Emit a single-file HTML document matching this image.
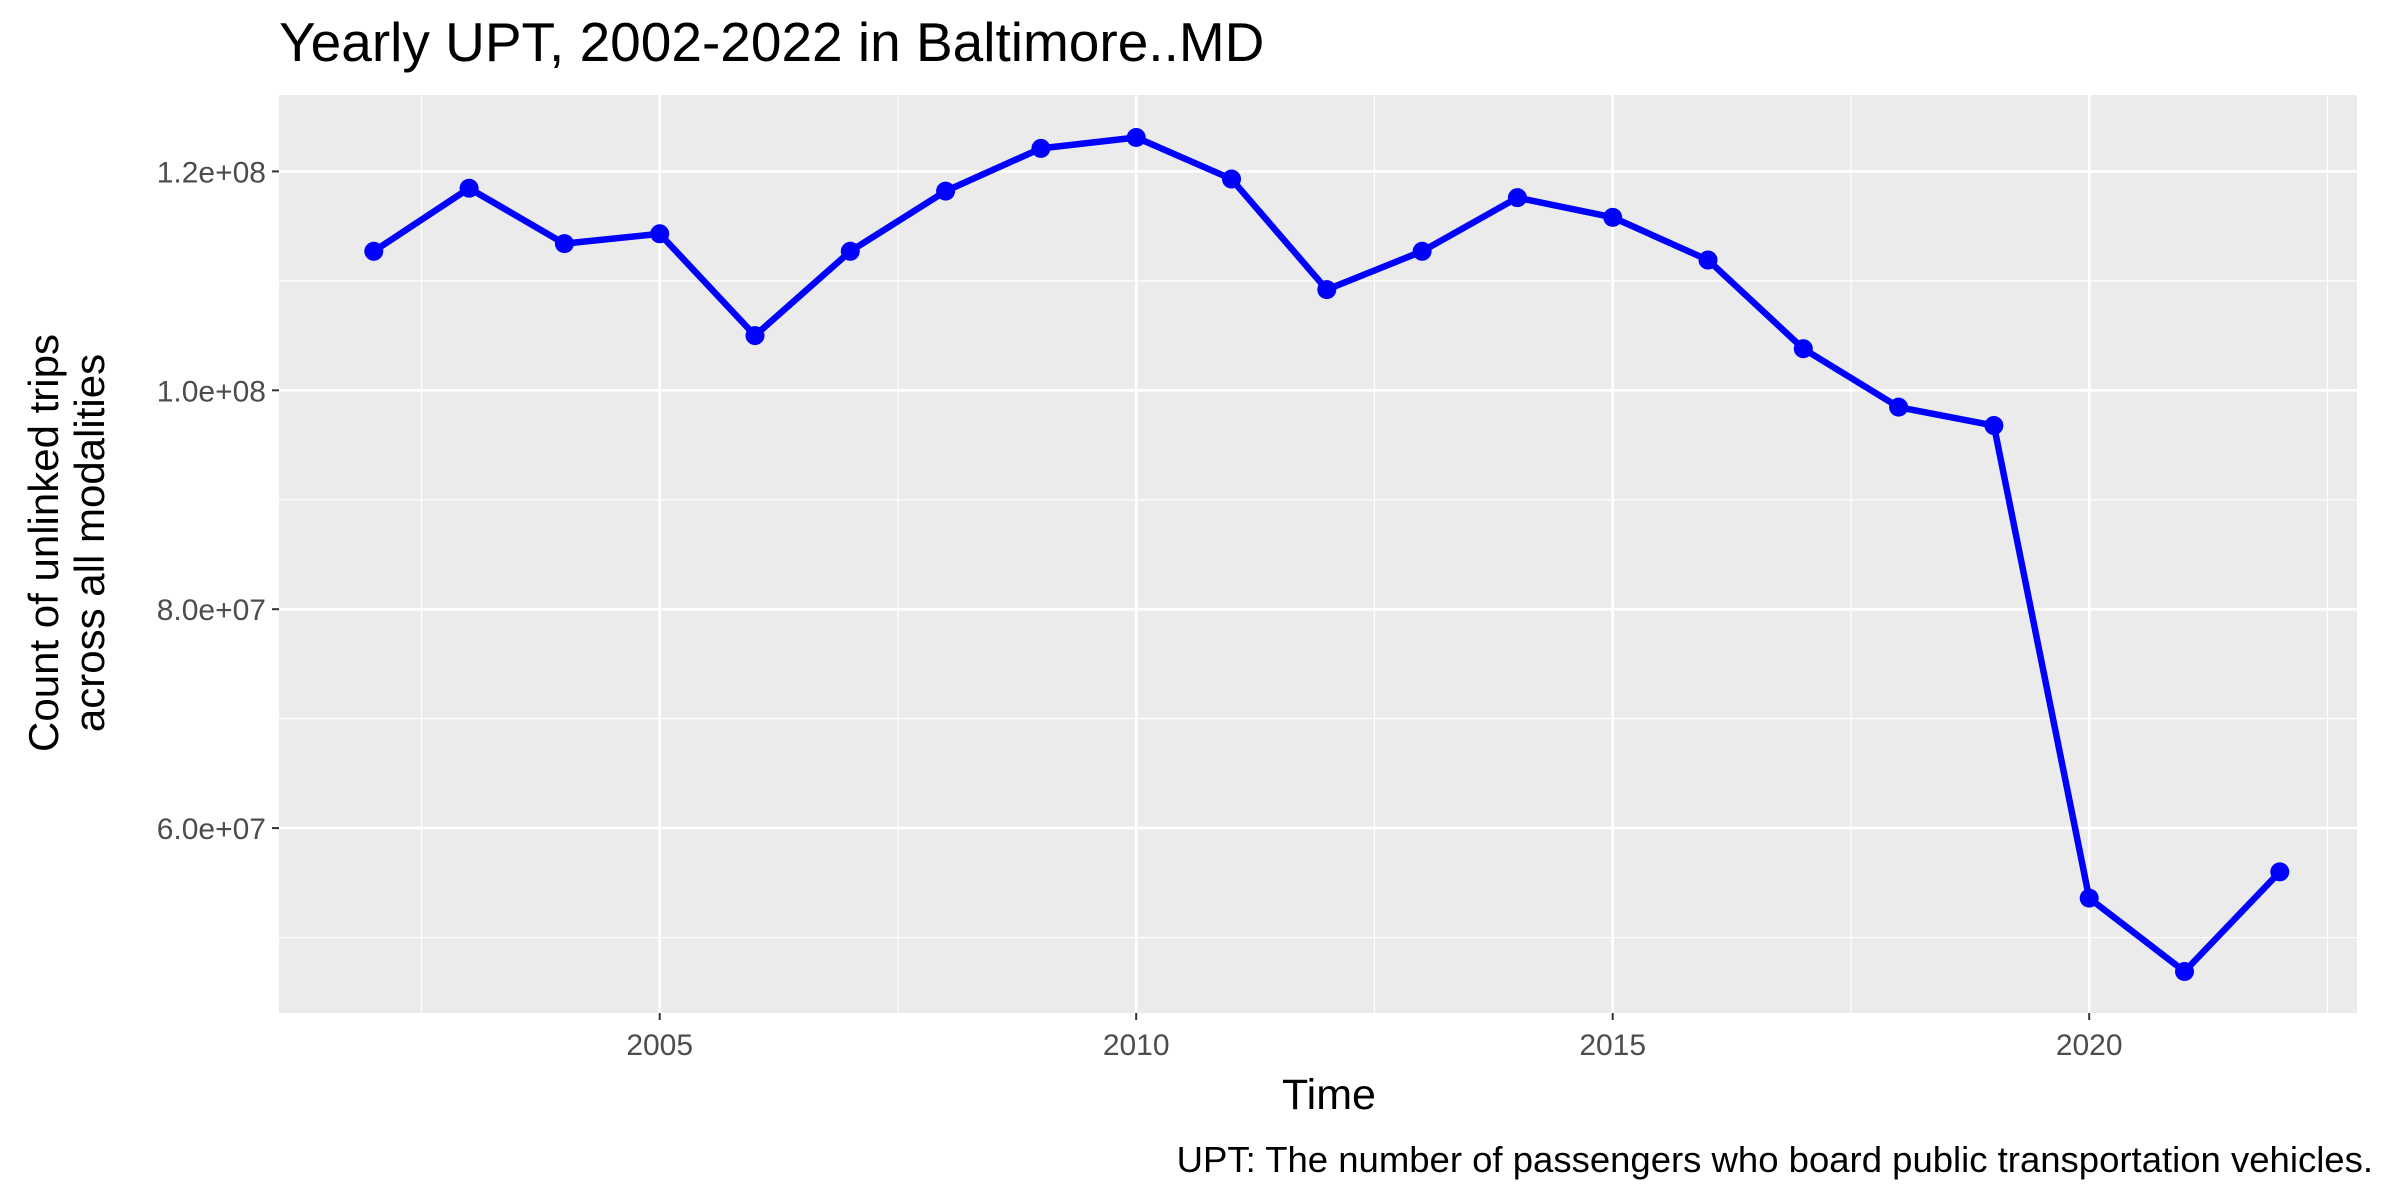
<!DOCTYPE html>
<html><head><meta charset="utf-8"><style>
html,body{margin:0;padding:0;background:#fff;}
svg{display:block;font-family:"Liberation Sans",Arial,sans-serif;}
</style></head><body>
<svg id="chart" width="2400" height="1200" viewBox="0 0 2400 1200">
<rect x="0" y="0" width="2400" height="1200" fill="#fff"/>
<text x="279" y="61" font-size="55" fill="#000">Yearly UPT, 2002-2022 in Baltimore..MD</text>
<rect x="279" y="95" width="2078" height="918" fill="#ebebeb"/>
<g id="grid"></g>
<g id="axes"></g>
<g id="series"></g>
<text x="1329" y="1109" font-size="43" text-anchor="middle" fill="#000">Time</text>
<text transform="translate(58,543) rotate(-90)" font-size="42" text-anchor="middle" fill="#000">Count of unlinked trips</text>
<text transform="translate(104,543) rotate(-90)" font-size="42" text-anchor="middle" fill="#000">across all modalities</text>
<text x="2373" y="1172" font-size="36.5" text-anchor="end" fill="#000">UPT: The number of passengers who board public transportation vehicles.</text>
</svg>
<script>
const years = [2002,2003,2004,2005,2006,2007,2008,2009,2010,2011,2012,2013,2014,2015,2016,2017,2018,2019,2020,2021,2022];
const upt = [1.127e8,1.1846e8,1.134e8,1.143e8,1.050e8,1.127e8,1.182e8,1.221e8,1.231e8,1.193e8,1.092e8,1.127e8,1.176e8,1.158e8,1.119e8,1.038e8,0.9846e8,0.9678e8,5.36e7,4.69e7,5.6e7];
const yTicks = [6e7,8e7,1e8,1.2e8];
const yTickLabels = ["6.0e+07","8.0e+07","1.0e+08","1.2e+08"];
const yMinor = [5e7,7e7,9e7,1.1e8];
const xTicks = [2005,2010,2015,2020];
const xTickLabels = ["2005","2010","2015","2020"];
const xMinor = [2002.5,2007.5,2012.5,2017.5,2022.5];

const NS="http://www.w3.org/2000/svg";
const PL=279,PR=2357,PT=95,PB=1013;
function xs(v){return 659.7+(v-2005)*95.3;}
function ys(v){return 171.4+(1.2e8-v)/2e7*218.9;}
function mk(tag,attrs,parent){const e=document.createElementNS(NS,tag);for(const k in attrs)e.setAttribute(k,attrs[k]);parent.appendChild(e);return e;}
const grid=document.getElementById('grid'),axes=document.getElementById('axes'),series=document.getElementById('series');
yMinor.forEach(v=>{const e=mk('line',{x1:PL,x2:PR,y1:ys(v),y2:ys(v),stroke:'#fff','stroke-width':1.2},grid);

});
xMinor.forEach(v=>{const e=mk('line',{x1:xs(v),x2:xs(v),y1:PT,y2:PB,stroke:'#fff','stroke-width':1.2},grid);

});
yTicks.forEach((v,i)=>{const e=mk('line',{x1:PL,x2:PR,y1:ys(v),y2:ys(v),stroke:'#fff','stroke-width':2.6},grid);


const t=mk('line',{x1:PL-7,x2:PL,y1:ys(v),y2:ys(v),stroke:'#333','stroke-width':2},axes);


const l=mk('text',{x:PL-13,y:ys(v)+11,'font-size':30,'text-anchor':'end',fill:'#4d4d4d'},axes);l.textContent=yTickLabels[i];

});
xTicks.forEach((v,i)=>{const e=mk('line',{x1:xs(v),x2:xs(v),y1:PT,y2:PB,stroke:'#fff','stroke-width':2.6},grid);


const t=mk('line',{x1:xs(v),x2:xs(v),y1:PB,y2:PB+7,stroke:'#333','stroke-width':2},axes);


const l=mk('text',{x:xs(v),y:PB+42,'font-size':30,'text-anchor':'middle',fill:'#4d4d4d'},axes);l.textContent=xTickLabels[i];

});
const pts=years.map((y,i)=>xs(y)+','+ys(upt[i])).join(' ');
const pl=mk('polyline',{points:pts,fill:'none',stroke:'#0000ff','stroke-width':6.5,'stroke-linejoin':'round'},series);


years.forEach((y,i)=>{const c=mk('circle',{cx:xs(y),cy:ys(upt[i]),r:9.5,fill:'#0000ff'},series);

});
</script>
</body></html>
